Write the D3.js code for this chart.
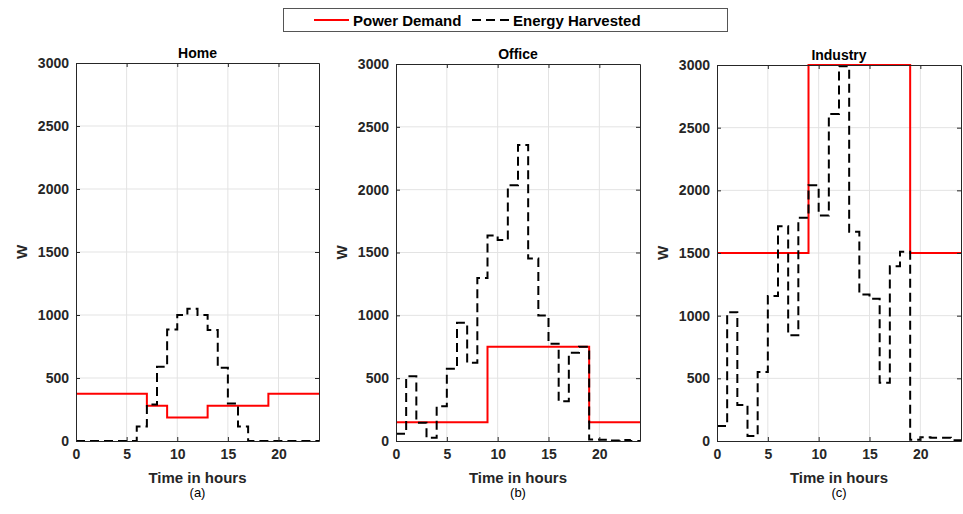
<!DOCTYPE html>
<html><head><meta charset="utf-8">
<script src="https://cdn.jsdelivr.net/npm/d3@7"></script>
<style>
html,body{margin:0;padding:0;background:#fff;}
svg{display:block;font-family:"Liberation Sans",Arial,Helvetica,sans-serif;}
</style></head>
<body>
<svg id="chart" width="963" height="514"></svg>
<script>
// ---- data ----
const hours = d3.range(0, 25); // 0..24 (step boundaries)
const xTicks = [0, 5, 10, 15, 20];
const yTicks = [0, 500, 1000, 1500, 2000, 2500, 3000];
const panelTitles = ["Home", "Office", "Industry"];
const panelLetters = ["(a)", "(b)", "(c)"];
const seriesNames = ["Power Demand", "Energy Harvested"];

const homeDemand = [375,375,375,375,375,375,375,280,280,187,187,187,187,280,280,280,280,280,280,375,375,375,375,375];
const homeHarvest = [0,0,0,0,0,0,115,290,590,885,1000,1050,1000,880,582,298,115,0,0,0,0,0,0,0];
const officeDemand = [150,150,150,150,150,150,150,150,150,750,750,750,750,750,750,750,750,750,750,150,150,150,150,150];
const officeHarvest = [57,515,145,25,277,574,940,622,1298,1635,1600,2035,2355,1452,998,773,317,702,750,12,10,3,8,0];
const industryDemand = [1500,1500,1500,1500,1500,1500,1500,1500,1500,3000,3000,3000,3000,3000,3000,3000,3000,3000,3000,1500,1500,1500,1500,1500];
const industryHarvest = [120,1028,287,40,550,1156,1714,843,1781,2041,1799,2610,2990,1669,1169,1135,465,1395,1510,10,30,25,25,5];

const demands = [homeDemand, officeDemand, industryDemand];
const harvests = [homeHarvest, officeHarvest, industryHarvest];

// ---- layout ----
const panels = [
  {x0: 76, x1: 319, y0: 63, y1: 441},
  {x0: 396, x1: 640, y0: 64, y1: 441},
  {x0: 717, x1: 961, y0: 65, y1: 441}
];
const axisColor = "#262626";
const gridColor = "#e3e3e3";
const svg = d3.select("#chart");

function withEnd(v){ return v.concat([v[v.length-1]]); }

panels.forEach((p, i) => {
  const x = d3.scaleLinear().domain([0, 24]).range([p.x0, p.x1]);
  const y = d3.scaleLinear().domain([0, 3000]).range([p.y1, p.y0]);
  const g = svg.append("g");

  // grid
  g.selectAll(".gx").data(xTicks.filter(t => t > 0)).enter().append("line")
    .attr("x1", d => x(d)).attr("x2", d => x(d))
    .attr("y1", p.y0).attr("y2", p.y1)
    .attr("stroke", gridColor).attr("stroke-width", 1);
  g.selectAll(".gy").data(yTicks.filter(t => t > 0 && t < 3000)).enter().append("line")
    .attr("x1", p.x0).attr("x2", p.x1)
    .attr("y1", d => y(d)).attr("y2", d => y(d))
    .attr("stroke", gridColor).attr("stroke-width", 1);

  // lines
  const line = d3.line().x((d, k) => x(hours[k])).y(d => y(d)).curve(d3.curveStepAfter);
  g.append("path").datum(withEnd(demands[i]))
    .attr("d", line).attr("fill", "none")
    .attr("stroke", "#ff0000").attr("stroke-width", 2);
  g.append("path").datum(withEnd(harvests[i]))
    .attr("d", line).attr("fill", "none")
    .attr("stroke", "#000").attr("stroke-width", 2)
    .attr("stroke-dasharray", "9,5");

  // axes
  const fmt = d3.format("d");
  const ax = g.append("g").attr("transform", `translate(0,${p.y1})`)
    .call(d3.axisBottom(x).tickValues(xTicks).tickFormat(fmt).tickSizeInner(-4).tickSizeOuter(0).tickPadding(8));
  const ay = g.append("g").attr("transform", `translate(${p.x0},0)`)
    .call(d3.axisLeft(y).tickValues(yTicks).tickFormat(fmt).tickSizeInner(-4).tickSizeOuter(0).tickPadding(7));
  const axT = g.append("g").attr("transform", `translate(0,${p.y0})`)
    .call(d3.axisTop(x).tickValues(xTicks).tickSizeInner(-4).tickSizeOuter(0).tickFormat(""));
  const ayR = g.append("g").attr("transform", `translate(${p.x1},0)`)
    .call(d3.axisRight(y).tickValues(yTicks).tickSizeInner(-4).tickSizeOuter(0).tickFormat(""));
  [ax, ay, axT, ayR].forEach(a => {
    a.selectAll("path").attr("stroke", axisColor).attr("stroke-width", 1);
    a.selectAll("line").attr("stroke", axisColor).attr("stroke-width", 1);
    a.selectAll("text").attr("fill", axisColor).attr("font-size", 14).attr("font-weight", "bold")
      .attr("font-family", "Liberation Sans, Arial, sans-serif");
  });

  const cx = (p.x0 + p.x1) / 2;
  g.append("text").attr("x", cx).attr("y", p.y0 - 5)
    .attr("text-anchor", "middle").attr("font-size", 14).attr("font-weight", "bold")
    .attr("fill", "#000").text(panelTitles[i]);
  g.append("text").attr("x", cx).attr("y", 483)
    .attr("text-anchor", "middle").attr("font-size", 15).attr("font-weight", "bold")
    .attr("fill", axisColor).text("Time in hours");
  g.append("text").attr("transform", `translate(${p.x0 - 49},${(p.y0 + p.y1) / 2}) rotate(-90)`)
    .attr("text-anchor", "middle").attr("font-size", 15).attr("font-weight", "bold")
    .attr("fill", axisColor).text("W");
  g.append("text").attr("x", cx).attr("y", 497)
    .attr("text-anchor", "middle").attr("font-size", 13)
    .attr("fill", "#000").text(panelLetters[i]);
});

// legend
const lg = svg.append("g");
lg.append("rect").attr("x", 283.5).attr("y", 8.5).attr("width", 444).attr("height", 23)
  .attr("fill", "#fff").attr("stroke", "#555").attr("stroke-width", 1);
lg.append("line").attr("x1", 314).attr("x2", 349).attr("y1", 20).attr("y2", 20)
  .attr("stroke", "#ff0000").attr("stroke-width", 2);
lg.append("text").attr("x", 353).attr("y", 25.5).attr("font-size", 15).attr("font-weight", "bold")
  .attr("fill", "#000").text(seriesNames[0]);
lg.append("line").attr("x1", 472).attr("x2", 510).attr("y1", 20).attr("y2", 20)
  .attr("stroke", "#000").attr("stroke-width", 2).attr("stroke-dasharray", "9,5");
lg.append("text").attr("x", 513).attr("y", 25.5).attr("font-size", 15).attr("font-weight", "bold")
  .attr("fill", "#000").text(seriesNames[1]);
</script>
</body></html>
